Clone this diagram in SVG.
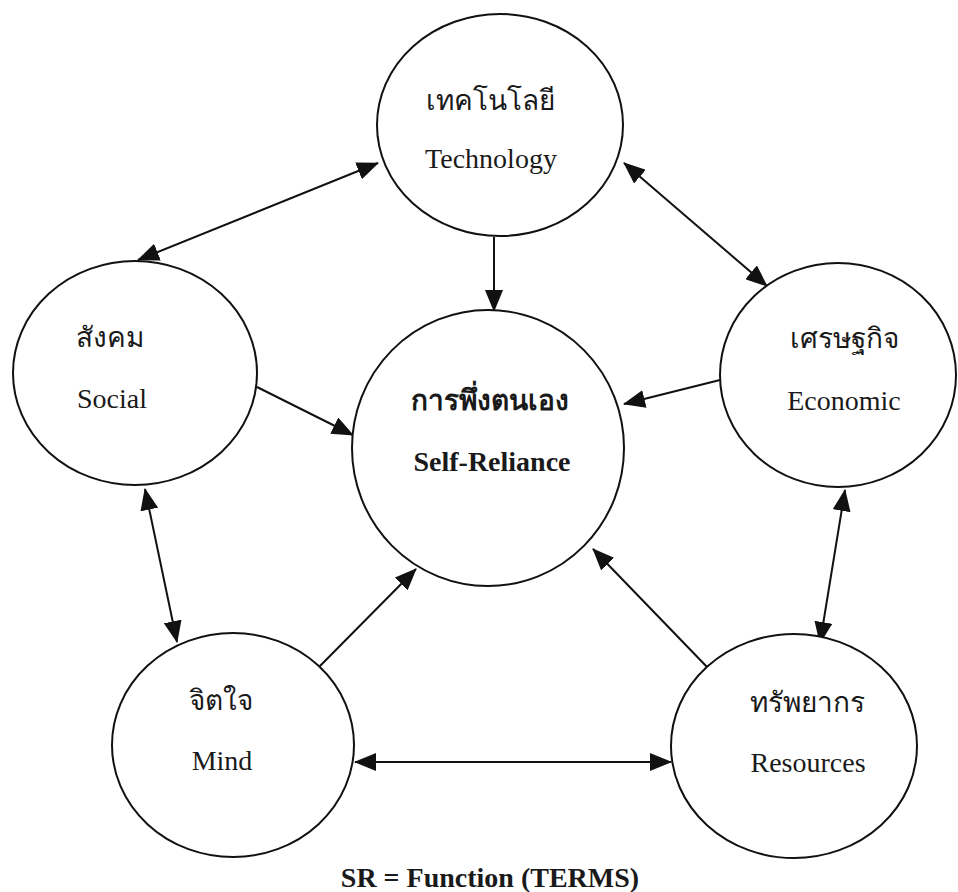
<svg xmlns="http://www.w3.org/2000/svg" width="958" height="892" viewBox="0 0 958 892">
<style>
.node ellipse{fill:#fff;stroke:#111;stroke-width:2}
.th{font-family:"Liberation Serif","Noto Sans",serif;font-size:28px;fill:#1a1a1a;text-anchor:middle}
.en{font-family:"Liberation Serif",serif;font-size:28px;fill:#1a1a1a;text-anchor:middle}
.b{font-weight:bold}
.conn line{stroke:#111;stroke-width:2}
</style>
<defs>
<marker id="ah" markerUnits="userSpaceOnUse" markerWidth="22" markerHeight="18" viewBox="0 0 22 18" refX="21" refY="9" orient="auto-start-reverse">
<path d="M0,0 L22,9 L0,18 Z" fill="#111"/>
</marker>
</defs>
<rect width="958" height="892" fill="#fff"/>
<g id="connectors" class="conn">
<line x1="138" y1="260" x2="378" y2="163" marker-start="url(#ah)" marker-end="url(#ah)"/>
<line x1="624" y1="163" x2="767" y2="286" marker-start="url(#ah)" marker-end="url(#ah)"/>
<line x1="494" y1="237" x2="494" y2="311" marker-end="url(#ah)"/>
<line x1="257" y1="387" x2="353" y2="435" marker-end="url(#ah)"/>
<line x1="720" y1="380" x2="624" y2="404" marker-end="url(#ah)"/>
<line x1="145" y1="489" x2="177" y2="642" marker-start="url(#ah)" marker-end="url(#ah)"/>
<line x1="845" y1="490" x2="820" y2="643" marker-start="url(#ah)" marker-end="url(#ah)"/>
<line x1="319" y1="667" x2="416" y2="569" marker-end="url(#ah)"/>
<line x1="708" y1="668" x2="593" y2="549" marker-end="url(#ah)"/>
<line x1="355" y1="762" x2="671" y2="762" marker-start="url(#ah)" marker-end="url(#ah)"/>
</g>
<g id="technology" class="node">
<ellipse cx="500" cy="125" rx="123" ry="111"/>
<text class="th" x="490" y="110">เทคโนโลยี</text>
<text class="en" x="491" y="168">Technology</text>
</g>
<g id="social" class="node">
<ellipse cx="135" cy="373" rx="122" ry="112"/>
<text class="th" x="110" y="347">สังคม</text>
<text class="en" x="112" y="408">Social</text>
</g>
<g id="self-reliance" class="node">
<ellipse cx="488" cy="448" rx="136" ry="138"/>
<text class="th b" x="490" y="410">การพึ่งตนเอง</text>
<text class="en b" x="492" y="471" font-size="29">Self-Reliance</text>
</g>
<g id="economic" class="node">
<ellipse cx="838" cy="375" rx="118" ry="112"/>
<text class="th" x="844" y="348">เศรษฐกิจ</text>
<text class="en" x="844" y="410">Economic</text>
</g>
<g id="mind" class="node">
<ellipse cx="233" cy="745" rx="121" ry="112"/>
<text class="th" x="221" y="710">จิตใจ</text>
<text class="en" x="222" y="770">Mind</text>
</g>
<g id="resources" class="node">
<ellipse cx="794" cy="746" rx="123" ry="112"/>
<text class="th" x="807" y="712">ทรัพยากร</text>
<text class="en" x="808" y="772">Resources</text>
</g>
<text class="en b" x="490" y="887" font-size="29">SR = Function (TERMS)</text>
</svg>
